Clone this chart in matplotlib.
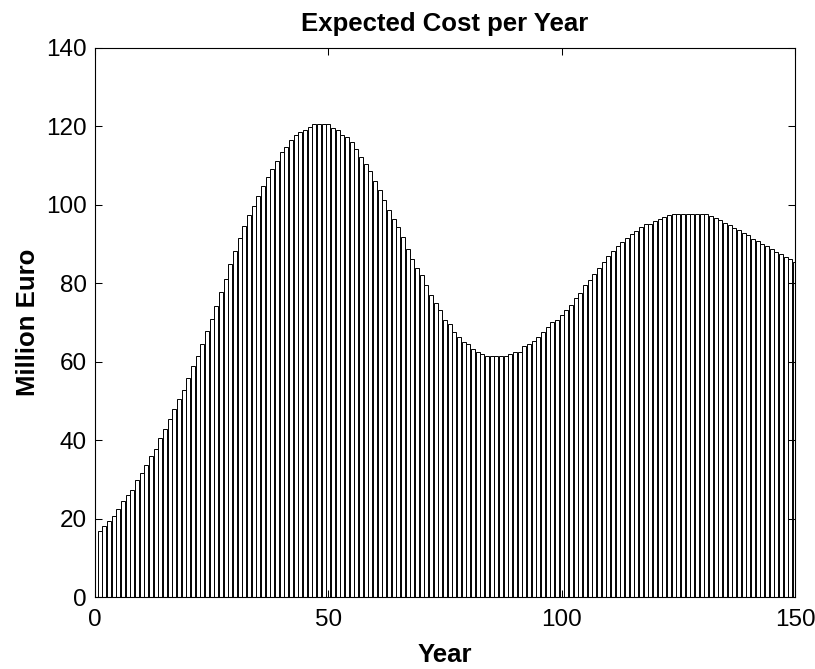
import numpy as np
import matplotlib
matplotlib.use("Agg")
import matplotlib.pyplot as plt

plt.rcParams['font.family'] = ['Liberation Sans', 'DejaVu Sans']

# Expected cost per year (million euro), years 1..150
years = np.arange(1, 151)
cost = [
    16.9, 18.1, 19.3, 20.6, 22.5, 24.4, 26.1, 27.4, 29.9, 31.7,
    33.7, 36.0, 37.8, 40.5, 42.9, 45.4, 47.9, 50.4, 52.9, 55.9,
    58.9, 61.5, 64.6, 67.8, 71.0, 74.2, 77.8, 81.2, 84.8, 88.2,
    91.5, 94.5, 97.4, 99.8, 102.3, 104.8, 107.2, 109.2, 111.1, 113.4,
    114.8, 116.6, 117.9, 118.5, 119.2, 119.8, 120.6, 120.6, 120.6, 120.6,
    119.7, 119.1, 117.9, 117.2, 116.0, 114.2, 112.3, 110.4, 108.6, 106.1,
    103.7, 101.3, 98.7, 96.3, 94.4, 91.9, 88.7, 86.3, 83.8, 82.0,
    79.5, 77.0, 75.1, 73.2, 70.7, 69.5, 67.5, 66.2, 65.1, 64.4,
    63.3, 62.6, 62.0, 61.4, 61.4, 61.4, 61.4, 61.4, 62.0, 62.6,
    62.6, 63.9, 64.5, 65.2, 66.4, 67.7, 68.9, 70.2, 70.7, 72.0,
    73.2, 74.5, 76.2, 77.5, 79.5, 80.9, 82.3, 83.8, 85.5, 87.0,
    88.3, 89.5, 90.6, 91.6, 92.6, 93.3, 94.3, 95.0, 95.0, 95.8,
    96.4, 96.9, 97.3, 97.7, 97.7, 97.7, 97.7, 97.7, 97.7, 97.7,
    97.7, 97.1, 96.6, 96.1, 95.5, 94.9, 94.2, 93.6, 92.9, 92.2,
    91.4, 90.7, 90.1, 89.5, 88.8, 88.0, 87.4, 86.7, 86.1, 85.4,
]

x_ticks = [0, 50, 100, 150]
y_ticks = list(range(0, 141, 20))

fig = plt.figure(figsize=(8.15, 6.69), dpi=100)
ax = fig.add_axes([95 / 815, 72 / 669, 700 / 815, 549 / 669])

ax.bar(years, cost, width=0.8, color='white', edgecolor='black', linewidth=0.7)

ax.set_xlim(0, 150)
ax.set_ylim(0, 140)
ax.set_xticks(x_ticks)
ax.set_yticks(y_ticks)
ax.tick_params(direction='in', length=5, width=0.75, top=True, right=True,
               labelsize=17.5)
ax.tick_params(axis='x', pad=9)
ax.tick_params(axis='y', pad=6)
for sp in ax.spines.values():
    sp.set_linewidth(0.8)

ax.set_title("Expected Cost per Year", fontsize=18.5, fontweight='bold', pad=12)
ax.set_xlabel("Year", fontsize=18.5, fontweight='bold', labelpad=8)
ax.set_ylabel("Million Euro", fontsize=18.5, fontweight='bold', labelpad=4)

fig.savefig("out.png", dpi=100)
